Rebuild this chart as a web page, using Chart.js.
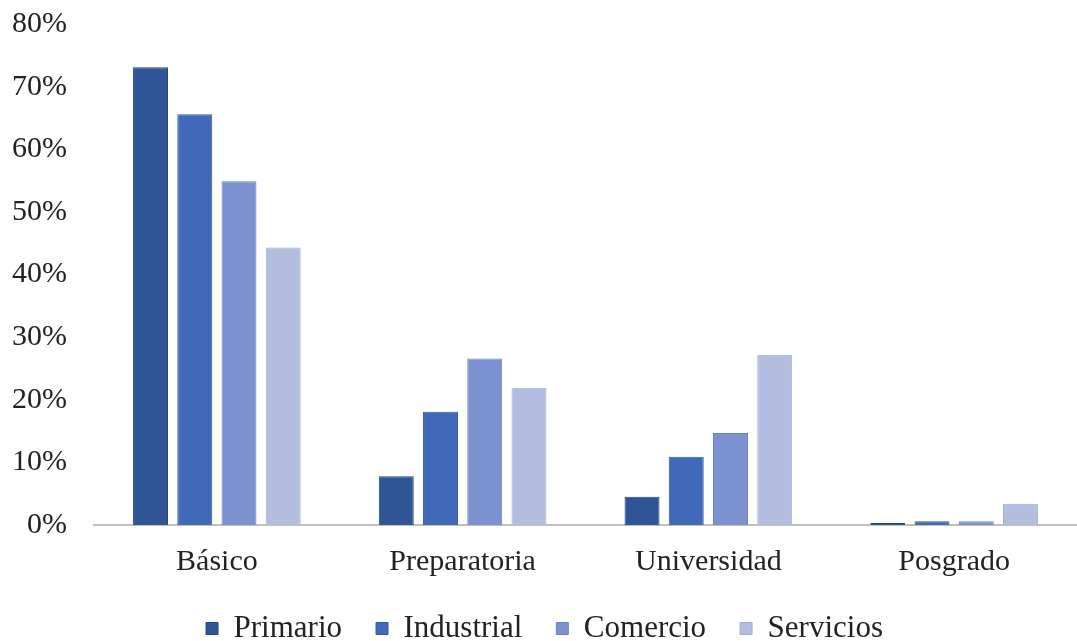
<!DOCTYPE html>
<html lang="es">
<head>
  <meta charset="UTF-8" />
  <title>Nivel educativo por sector</title>
  <script src="https://cdn.jsdelivr.net/npm/chart.js"></script>
  <style>
    html, body { margin: 0; padding: 0; background: #fff; }
    .caja { width: 1077px; height: 641px; }
  </style>
</head>
<body>
  <div class="caja">
    <canvas id="grafico" width="1077" height="641"></canvas>
  </div>

  <script>
    // niveles educativos y porcentaje por sector
    const niveles = ['Básico', 'Preparatoria', 'Universidad', 'Posgrado'];
    const primario = [73.1, 7.8, 4.5, 0.3];
    const industrial = [65.6, 18.1, 10.9, 0.6];
    const comercio = [54.9, 26.6, 14.7, 0.6];
    const servicios = [44.3, 21.9, 27.2, 3.4];
    const marcasY = [0, 10, 20, 30, 40, 50, 60, 70, 80];

    const fuente = "'Liberation Serif', 'Times New Roman', serif";

    function serie(nombre, valores, relleno, borde) {
      return {
        label: nombre,
        data: valores,
        backgroundColor: relleno,
        borderColor: borde,
        borderWidth: 1,
        categoryPercentage: 0.72,
        barPercentage: 0.79
      };
    }

    Chart.defaults.font.family = fuente;
    Chart.defaults.color = '#222';

    var ctx = document.getElementById('grafico').getContext('2d');
    new Chart(ctx, {
      type: 'bar',
      data: {
        labels: niveles,
        datasets: [
          serie('Primario', primario, '#2f5597', '#22447f'),
          serie('Industrial', industrial, '#4169b9', '#3358a3'),
          serie('Comercio', comercio, '#7b91d0', '#6a80c0'),
          serie('Servicios', servicios, '#b2bde0', '#a3afd6')
        ]
      },
      options: {
        responsive: false,
        animation: false,
        layout: { padding: { top: 24, right: -12, bottom: -13, left: 0 } },
        plugins: {
          tooltip: { enabled: false },
          legend: {
            position: 'bottom',
            labels: {
              font: { size: 31 },
              boxWidth: 12,
              boxHeight: 12,
              padding: 34,
              color: '#222'
            }
          }
        },
        scales: {
          x: {
            afterFit: s => { s.height -= 20; },
            grid: { display: false, drawTicks: false },
            border: { color: '#bfbfbf', width: 2 },
            ticks: { font: { size: 30 }, color: '#222', padding: 19 }
          },
          y: {
            min: 0,
            max: 80,
            afterBuildTicks: s => { s.ticks = marcasY.map(v => ({ value: v })); },
            afterFit: s => {
              s.width = 94;
              // el margen lo pone layout.padding
              s.paddingTop = 0;
              s.paddingBottom = 0;
            },
            grid: { display: false, drawTicks: false },
            border: { display: false },
            ticks: {
              font: { size: 30 },
              color: '#222',
              padding: 27,
              callback: v => v + '%'
            }
          }
        }
      }
    });
  </script>
</body>
</html>
